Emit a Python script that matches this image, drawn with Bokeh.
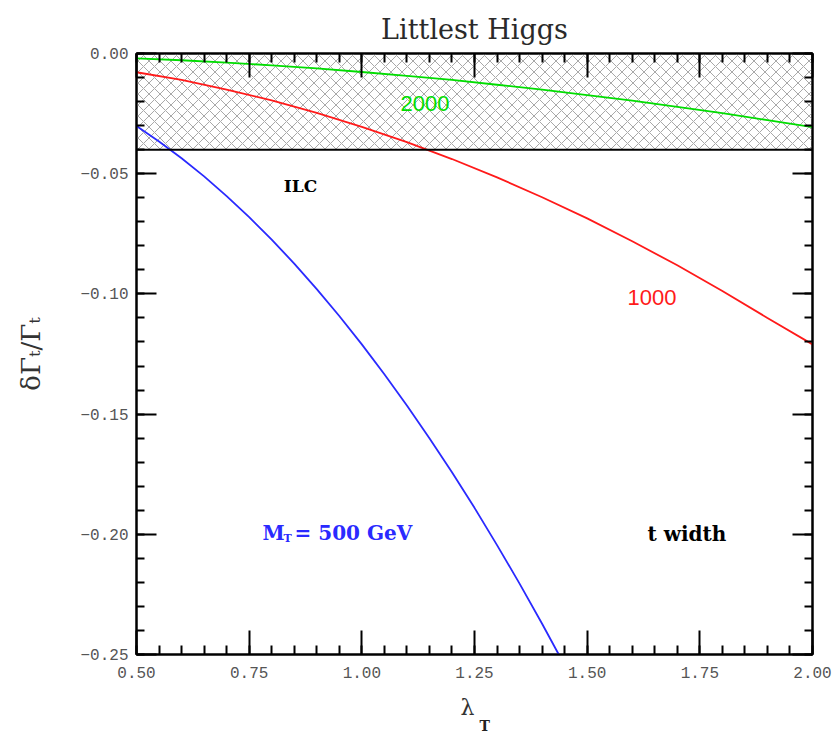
from bokeh.plotting import figure
from bokeh.models import (Range1d, FixedTicker, LinearAxis, Label, Span, Title,
                          CustomJSTickFormatter)
from bokeh.embed import file_html
from bokeh.resources import INLINE

# ---- data: fractional shift of the top width vs lambda_T, for three heavy-T masses
lam_500 = [0.50, 0.55, 0.60, 0.65, 0.70, 0.75, 0.80, 0.85, 0.90, 0.95, 1.00,
           1.05, 1.10, 1.15, 1.20, 1.25, 1.30, 1.35, 1.40, 1.437]
dG_500 = [-0.0302, -0.0366, -0.0436, -0.0511, -0.0593, -0.0681, -0.0774,
          -0.0874, -0.0980, -0.1092, -0.1210, -0.1334, -0.1464, -0.1600,
          -0.1742, -0.1890, -0.2045, -0.2205, -0.2372, -0.2500]

lam_1000 = [0.5, 0.6, 0.7, 0.8, 0.9, 1.0, 1.1, 1.2, 1.3, 1.4, 1.5, 1.6, 1.7,
            1.8, 1.9, 2.0]
dG_1000 = [-0.0078, -0.0110, -0.0150, -0.0195, -0.0247, -0.0305, -0.0369,
           -0.0439, -0.0515, -0.0598, -0.0686, -0.0781, -0.0881, -0.0988,
           -0.1100, -0.1210]

lam_2000 = [0.5, 0.6, 0.7, 0.8, 0.9, 1.0, 1.1, 1.2, 1.3, 1.4, 1.5, 1.6, 1.7,
            1.8, 1.9, 2.0]
dG_2000 = [-0.0020, -0.0028, -0.0038, -0.0049, -0.0062, -0.0077, -0.0093,
           -0.0110, -0.0130, -0.0150, -0.0173, -0.0196, -0.0222, -0.0248,
           -0.0277, -0.0306]

ilc_bound = -0.04          # ILC reach on the top width

x_major = [0.50, 0.75, 1.00, 1.25, 1.50, 1.75, 2.00]
x_minor = [round(0.50 + 0.05 * i, 2) for i in range(31)]
y_major = [0.00, -0.05, -0.10, -0.15, -0.20, -0.25]
y_minor = [round(-0.01 * i, 2) for i in range(26)]

# ---- frame geometry (pixels)
FL, FR, FT, FB = 136, 812, 53, 654
XMIN, XMAX, YMIN, YMAX = 0.5, 2.0, -0.25, 0.0


def lx(px):
    return XMIN + (px - FL) / (FR - FL) * (XMAX - XMIN)


def ly(py):
    return YMAX - (py - FT) / (FB - FT) * (YMAX - YMIN)


p = figure(width=838, height=732, output_backend="svg", toolbar_location=None,
           x_range=Range1d(XMIN, XMAX), y_range=Range1d(YMIN, YMAX),
           x_axis_location=None, y_axis_location=None,
           min_border_left=FL, min_border_right=838 - FR,
           min_border_top=FT, min_border_bottom=732 - FB)
p.grid.visible = False
p.outline_line_color = "black"
p.outline_line_width = 2
p.background_fill_color = "white"
p.border_fill_color = "white"

p.title.text = "Littlest Higgs"
p.title.align = "center"
p.title.vertical_align = "middle"
p.title.text_font = "DejaVu Serif"
p.title.text_font_size = "27px"
p.title.text_font_style = "normal"
p.title.text_color = "#2a2a2a"
p.title.standoff = 15

fmt = CustomJSTickFormatter(
    code="return (tick < -1e-9 ? '\\u2212' : '') + Math.abs(tick).toFixed(2);")
blank = CustomJSTickFormatter(code="return '';")


def axis(ticks, minors, major_in, minor_in, formatter, standoff,
         label_size="16px"):
    ax = LinearAxis(ticker=FixedTicker(ticks=ticks, minor_ticks=minors),
                    formatter=formatter)
    ax.axis_line_color = "black"
    ax.axis_line_width = 2
    ax.major_tick_in = major_in
    ax.major_tick_out = 0
    ax.minor_tick_in = minor_in
    ax.minor_tick_out = 0
    ax.major_tick_line_width = 2
    ax.minor_tick_line_width = 2
    ax.major_label_standoff = standoff
    ax.major_label_text_font = "Liberation Mono"
    ax.major_label_text_font_size = label_size
    ax.major_label_text_color = "#555555"
    ax.axis_label_text_font = "DejaVu Serif"
    ax.axis_label_text_font_style = "normal"
    ax.axis_label_text_color = "#333333"
    return ax


xb = axis(x_major, x_minor, 24, 9, fmt, 12)
xb.axis_label = "λ\u00a0\u00a0"
xb.axis_label_text_font_size = "22px"
xb.axis_label_standoff = 14
p.add_layout(xb, "below")
# subscript T of lambda_T
p.add_layout(Title(text="T", align="left", offset=343, standoff=-14,
                   text_font="DejaVu Serif", text_font_size="14px",
                   text_font_style="bold", text_color="#222222"), "below")
p.add_layout(axis(x_major, x_minor, 24, 9, blank, 0, "0px"), "above")

yl = axis(y_major, y_minor, 20, 8, fmt, 8)
yl.axis_label = "δΓₜ/Γₜ"
yl.axis_label_text_font_size = "26px"
yl.axis_label_standoff = 31
p.add_layout(yl, "left")
p.add_layout(axis(y_major, y_minor, 20, 8, blank, 0, "0px"), "right")

# ILC-excluded band, cross-hatched
p.varea(x=[XMIN, XMAX], y1=[ilc_bound, ilc_bound], y2=[YMAX, YMAX],
        fill_alpha=0, hatch_pattern="diagonal_cross", hatch_scale=11,
        hatch_weight=1, hatch_color="#a8a8a8")
p.add_layout(Span(location=ilc_bound, dimension="width",
                  line_color="black", line_width=2))

p.line(lam_2000, dG_2000, line_color="#00dd00", line_width=1.8)
p.line(lam_1000, dG_1000, line_color="#ff1a1a", line_width=1.8)
p.line(lam_500, dG_500, line_color="#2a2aff", line_width=1.8)


def label(x, y, text, **kw):
    opts = dict(text_align="left", text_baseline="middle",
                text_font="DejaVu Serif", text_font_size="20px",
                text_color="black")
    opts.update(kw)
    p.add_layout(Label(x=x, y=y, text=text, **opts))


# curve annotations
label(lx(400), ly(103), "2000", text_font="Liberation Sans",
      text_font_size="22px", text_color="#00dd00")
label(lx(627), ly(297), "1000", text_font="Liberation Sans",
      text_font_size="22px", text_color="#ff1a1a")
label(lx(300), ly(185), "ILC", text_align="center", text_font_style="bold",
      text_font_size="17px")
label(lx(262), ly(532), "M", text_font_style="bold", text_color="#2a2aff")
label(lx(283), ly(538), "T", text_font_style="bold", text_font_size="11px",
      text_color="#2a2aff")
label(lx(294), ly(532), "= 500 GeV", text_font_style="bold",
      text_color="#2a2aff")
label(lx(647), ly(533), "t width", text_font_style="bold")

open("out.html", "w").write(file_html(p, INLINE))
